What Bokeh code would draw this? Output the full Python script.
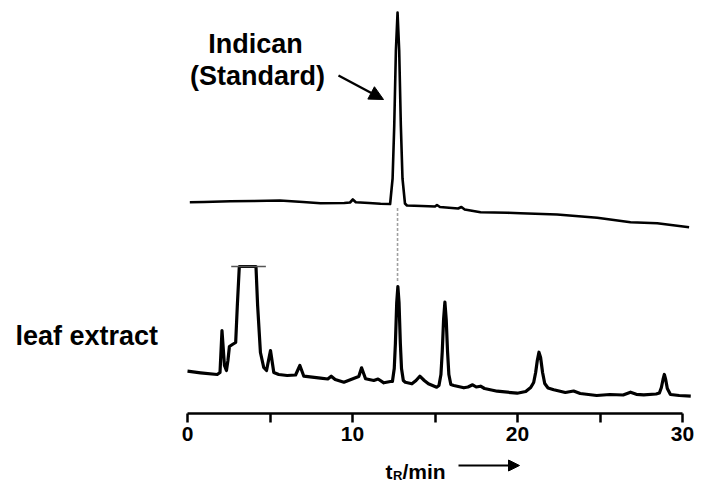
from bokeh.plotting import figure
from bokeh.models import Range1d, FixedTicker, Label, Arrow, NormalHead
from bokeh.embed import file_html
from bokeh.resources import INLINE

# ---------------- data ----------------
# Indican standard chromatogram: retention time (min) and signal (a.u.)
std_time = [0.14, 1.00, 2.60, 4.00, 5.60, 7.00, 8.06, 9.50, 9.85, 10.02, 10.20,
            11.00, 11.70, 12.28, 12.43, 12.53, 12.63, 12.73, 12.83, 12.93, 13.03,
            13.18, 13.30, 14.20, 15.00, 15.12, 15.30, 16.40, 16.60, 16.80, 17.76,
            19.40, 20.18, 22.40, 24.83, 26.85, 28.47, 30.40]
std_signal = [26.3, 26.5, 27.3, 27.5, 28.0, 26.5, 25.3, 25.5, 26.0, 29.0, 26.3,
              25.5, 24.7, 24.5, 50.0, 103.0, 178.0, 216.0, 178.0, 103.0, 50.0,
              25.0, 23.0, 22.5, 22.0, 23.5, 21.5, 20.0, 21.5, 19.0, 16.3,
              15.7, 15.3, 14.0, 10.7, 6.3, 5.3, 1.3]

# Leaf extract chromatogram (clipped at the top of the large early peaks)
leaf_time = [0.00, 0.79, 1.80, 1.97, 2.09, 2.24, 2.36, 2.45, 2.54, 2.72, 2.92,
             3.02, 3.14, 4.15, 4.25, 4.42, 4.62, 4.79, 5.03, 5.23, 5.53, 6.04,
             6.55, 6.81, 7.05, 8.06, 8.50, 8.71, 8.95, 9.48, 10.18, 10.38, 10.55,
             10.79, 11.29, 11.55, 11.90, 12.30, 12.42, 12.53, 12.60, 12.68, 12.75,
             12.82, 12.90, 12.97, 13.08, 13.20, 13.60, 13.85, 14.08, 14.35, 14.60,
             15.10, 15.24, 15.36, 15.44, 15.52, 15.60, 15.68, 15.76, 15.84, 15.96,
             16.14, 16.75, 17.00, 17.28, 17.50, 17.76, 18.00, 18.77, 19.98, 20.50,
             20.80, 20.98, 21.10, 21.20, 21.30, 21.40, 21.52, 21.65, 21.85, 22.20,
             22.90, 23.40, 23.80, 24.80, 25.60, 26.40, 26.85, 27.20, 27.65, 28.40,
             28.60, 28.72, 28.82, 28.90, 28.98, 29.08, 29.27, 29.80, 30.50]
leaf_signal = [24.3, 22.7, 21.0, 23.0, 65.0, 30.0, 25.0, 35.0, 49.0, 51.0, 53.0,
               90.0, 129.0, 129.0, 90.0, 43.0, 28.0, 25.0, 45.0, 23.0, 21.0, 20.0,
               20.5, 30.0, 19.3, 17.3, 16.5, 19.3, 16.0, 13.3, 17.7, 19.0, 27.7,
               16.7, 15.0, 16.5, 12.7, 14.0, 14.0, 27.0, 52.0, 93.0, 109.0,
               93.0, 52.0, 27.0, 15.0, 13.3, 11.7, 15.0, 19.3, 15.0, 11.7,
               8.3, 10.0, 21.0, 44.0, 76.0, 93.3, 76.0, 44.0, 21.0, 11.0,
               10.0, 7.7, 8.5, 10.7, 8.5, 9.3, 7.0, 4.3, 2.3, 4.0,
               8.0, 13.0, 23.0, 35.0, 43.3, 38.0, 23.0, 12.0, 7.5, 5.7,
               3.0, 4.5, 2.0, 0.0, 1.0, 0.5, 3.3, 1.2, 0.7, 1.5,
               2.5, 8.0, 16.0, 21.0, 16.0, 7.0, 1.0, 0.0, -0.7]

x_ticks = [0, 10, 20, 30]
x_minor_ticks = [5, 15, 25]
indican_rt = 12.73          # retention time of indican (min)
clip_level = 129.0          # level at which the early leaf peaks are cut off
clip_span = (2.65, 4.75)    # time span of the cut-off marker

# ---------------- layout constants ----------------
STD_OFFSET = 185.0
LEAF_OFFSET = 18.0
FONT = "Liberation Sans"
PX = 16.5   # pixels per minute

p = figure(width=705, height=484, output_backend="svg", toolbar_location=None,
           x_range=Range1d(-187 / PX, (705 - 187) / PX), y_range=Range1d(-71, 413),
           min_border_left=0, min_border_right=0, min_border_top=0, min_border_bottom=0,
           y_axis_location=None)
p.outline_line_color = None
p.grid.visible = False
p.background_fill_color = "white"
p.border_fill_color = "white"

# traces
p.line(std_time, [s + STD_OFFSET for s in std_signal],
       line_color="black", line_width=2.6, line_join="round")
p.line(leaf_time, [s + LEAF_OFFSET for s in leaf_signal],
       line_color="black", line_width=3.2, line_join="round")

# cut-off marker on the clipped peaks
p.line([clip_span[0], clip_span[1]], [clip_level + LEAF_OFFSET] * 2,
       line_color="#555555", line_width=1.5)

# dashed connector between the two indican peaks
i_std = std_time.index(12.28)
leaf_peak = max(s for t, s in zip(leaf_time, leaf_signal) if abs(t - indican_rt) < 0.3)
p.segment(x0=[indican_rt], y0=[STD_OFFSET + std_signal[i_std] - 4],
          x1=[indican_rt], y1=[LEAF_OFFSET + leaf_peak + 5],
          line_color="#a0a0a0", line_width=1.6, line_dash="3 2")

# x axis drawn inside the frame at y = 0
ax = p.xaxis[0]
ax.fixed_location = 0
ax.ticker = FixedTicker(ticks=x_ticks, minor_ticks=x_minor_ticks)
ax.bounds = (0, 30)
ax.axis_line_width = 2.5
ax.major_tick_line_width = 2.5
ax.minor_tick_line_width = 2.5
ax.major_tick_in = 0
ax.major_tick_out = 9
ax.minor_tick_in = 0
ax.minor_tick_out = 9
ax.major_label_standoff = 4
ax.major_label_text_font = FONT
ax.major_label_text_font_size = "21px"
ax.major_label_text_font_style = "bold"
ax.major_label_text_color = "black"

def lab(x, y, text, size, align="left"):
    p.add_layout(Label(x=x, y=y, text=text, text_font=FONT, text_font_size=size,
                       text_font_style="bold", text_color="black",
                       text_align=align, text_baseline="alphabetic"))

lab((255 - 187) / PX, 370, "Indican", "27px", "center")
lab((257 - 187) / PX, 338, "(Standard)", "27px", "center")
lab((15 - 187) / PX, 78, "leaf extract", "27px")

# axis title  t_R/min  -->
lab((385 - 187) / PX, -58, "t", "21px")
lab((392.5 - 187) / PX, -62, "R", "13px")
lab((402 - 187) / PX, -58, "/min", "21px")

p.add_layout(Arrow(end=NormalHead(size=11, fill_color="black", line_color="black"),
                   x_start=(458 - 187) / PX, y_start=-52,
                   x_end=(519 - 187) / PX, y_end=-52,
                   line_color="black", line_width=2))

# arrow pointing at the standard peak
p.add_layout(Arrow(end=NormalHead(size=14, fill_color="black", line_color="black"),
                   x_start=(338 - 187) / PX, y_start=338,
                   x_end=(383 - 187) / PX, y_end=314,
                   line_color="black", line_width=2.4))

open("out.html", "w").write(file_html(p, INLINE))
